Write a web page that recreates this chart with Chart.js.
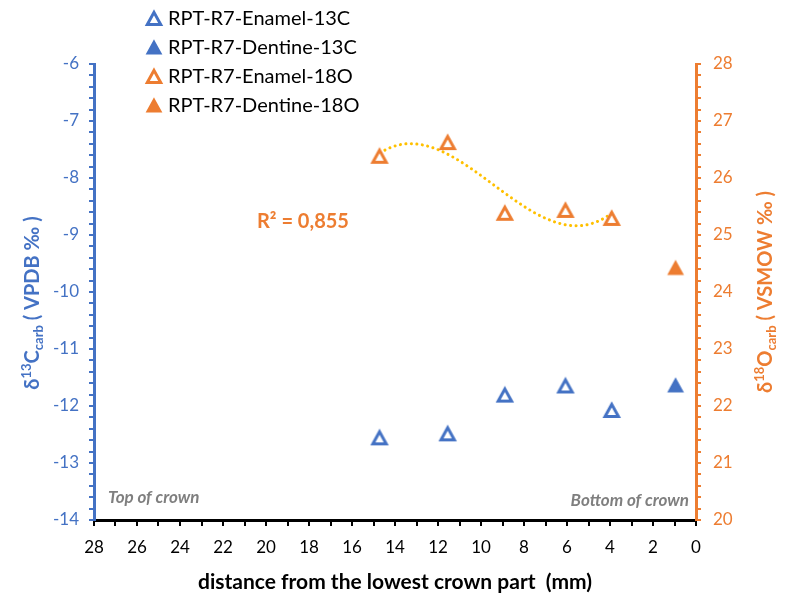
<!DOCTYPE html>
<html>
<head>
<meta charset="utf-8">
<script src="https://cdn.jsdelivr.net/npm/chart.js@4.4.0/dist/chart.umd.min.js"></script>
<style>
  body { margin: 0; background: #fff; }
  canvas { display: block; }
</style>
</head>
<body>
<canvas id="isotopeChart" width="785" height="598"></canvas>
<script>
// sample positions (mm from the lowest crown part) and isotope values
const enamelDistance = [14.72, 11.55, 8.89, 6.07, 3.92];
const enamelC13 = [-12.55, -12.48, -11.80, -11.64, -12.07];
const enamelO18 = [26.39, 26.63, 25.39, 25.44, 25.30];
const dentineDistance = [0.95];
const dentineC13 = [-11.63];
const dentineO18 = [24.43];

const seriesLabels = ['RPT-R7-Enamel-13C', 'RPT-R7-Dentine-13C', 'RPT-R7-Enamel-18O', 'RPT-R7-Dentine-18O'];
const distanceRange = [0, 28];
const c13Range = [-14, -6];
const o18Range = [20, 28];
const r2Text = 'R² = 0,855';

const BLUE = '#4472C4';
const ORANGE = '#ED7D31';
const TREND = '#FFC000';
const GREY = '#7F7F7F';
const FONT = 'Lato';

Chart.defaults.font.family = FONT;

// triangle marker drawn centred in its own box
const makeTriangle = (color, filled) => {
    const c = document.createElement('canvas');
    c.width = 24;
    c.height = 24;
    const ctx = c.getContext('2d');
    ctx.beginPath();
    ctx.moveTo(12, 6.4);
    ctx.lineTo(18.7, 18.6);
    ctx.lineTo(5.3, 18.6);
    ctx.closePath();
    ctx.lineJoin = 'miter';
    ctx.strokeStyle = color;
    if (filled) {
        ctx.fillStyle = color;
        ctx.fill();
        ctx.lineWidth = 2;
    } else {
        ctx.fillStyle = '#fff';
        ctx.fill();
        ctx.lineWidth = 3;
    }
    ctx.stroke();
    return c;
};

const markers = [
    makeTriangle(BLUE, false),
    makeTriangle(BLUE, true),
    makeTriangle(ORANGE, false),
    makeTriangle(ORANGE, true)
];

const toPoints = (xs, ys) => xs.map((x, i) => ({x: x, y: ys[i]}));

// least squares polynomial (order 3) trendline through the enamel 18O values
const polyFit = (xs, ys, order) => {
    const n = order + 1;
    const A = [];
    for (let r = 0; r < n; r++) {
        A.push([]);
        for (let c = 0; c < n; c++) {
            A[r].push(xs.reduce((s, x) => s + Math.pow(x, r + c), 0));
        }
        A[r].push(xs.reduce((s, x, i) => s + Math.pow(x, r) * ys[i], 0));
    }
    for (let p = 0; p < n; p++) {
        let best = p;
        for (let r = p + 1; r < n; r++) if (Math.abs(A[r][p]) > Math.abs(A[best][p])) best = r;
        [A[p], A[best]] = [A[best], A[p]];
        for (let r = 0; r < n; r++) {
            if (r === p) continue;
            const f = A[r][p] / A[p][p];
            for (let c = p; c <= n; c++) A[r][c] -= f * A[p][c];
        }
    }
    return A.map((row, i) => row[n] / row[i]);
};

const coef = polyFit(enamelDistance, enamelO18, 3);
const trendX0 = Math.min(...enamelDistance);
const trendX1 = Math.max(...enamelDistance);
const trendPoints = [];
for (let i = 0; i <= 80; i++) {
    const x = trendX0 + (trendX1 - trendX0) * i / 80;
    trendPoints.push({x: x, y: coef.reduce((s, c, k) => s + c * Math.pow(x, k), 0)});
}

const isWhole = v => Math.abs(v - Math.round(v)) < 1e-6;

// legend, axis titles with super/subscripts and the text notes
const extrasPlugin = {
    id: 'extras',
    afterDraw(chart) {
        const ctx = chart.ctx;
        const area = chart.chartArea;
        ctx.save();

        // legend
        ctx.font = `20px ${FONT}`;
        ctx.fillStyle = '#000';
        ctx.textBaseline = 'middle';
        ctx.textAlign = 'left';
        const rows = [18, 47, 76, 105];
        seriesLabels.forEach((label, i) => {
            ctx.drawImage(markers[i], 154 - 12, rows[i] - 12);
            ctx.fillText(label, 168, rows[i] + 1);
        });

        // notes
        ctx.font = `italic bold 17px ${FONT}`;
        ctx.fillStyle = GREY;
        ctx.textBaseline = 'alphabetic';
        ctx.fillText('Top of crown', area.left + 14, area.bottom - 17);
        ctx.textAlign = 'right';
        ctx.fillText('Bottom of crown', area.right - 7, area.bottom - 14);

        ctx.textAlign = 'left';
        ctx.font = `bold 20px ${FONT}`;
        ctx.fillStyle = ORANGE;
        ctx.fillText(r2Text, area.left + 163, area.top + 164);

        // axis titles
        const rich = (parts, cx, cy, color) => {
            let total = 0;
            parts.forEach(p => {
                ctx.font = `bold ${p[1]}px ${FONT}`;
                p.w = ctx.measureText(p[0]).width;
                total += p.w;
            });
            ctx.save();
            ctx.translate(cx, cy);
            ctx.rotate(-Math.PI / 2);
            ctx.fillStyle = color;
            ctx.textAlign = 'left';
            ctx.textBaseline = 'alphabetic';
            let x = -total / 2;
            parts.forEach(p => {
                ctx.font = `bold ${p[1]}px ${FONT}`;
                ctx.fillText(p[0], x, p[2]);
                x += p.w;
            });
            ctx.restore();
        };
        rich([['δ', 20, 7], ['13', 13, -1], ['C', 20, 7], ['carb', 13, 11], [' ( VPDB ‰ )', 20, 7]], 32, 303, BLUE);
        rich([['δ', 20, 7], ['18', 13, -1], ['O', 20, 7], ['carb', 13, 11], [' ( VSMOW ‰ )', 20, 7]], 765, 292, ORANGE);

        ctx.restore();
    }
};

const ctx = document.getElementById('isotopeChart').getContext('2d');
const isotopeChart = new Chart(ctx, {
    type: 'scatter',
    data: {
        datasets: [
            {
                label: seriesLabels[0],
                data: toPoints(enamelDistance, enamelC13),
                yAxisID: 'y',
                pointStyle: markers[0]
            },
            {
                label: seriesLabels[1],
                data: toPoints(dentineDistance, dentineC13),
                yAxisID: 'y',
                pointStyle: markers[1]
            },
            {
                label: seriesLabels[2],
                data: toPoints(enamelDistance, enamelO18),
                yAxisID: 'y2',
                pointStyle: markers[2]
            },
            {
                label: seriesLabels[3],
                data: toPoints(dentineDistance, dentineO18),
                yAxisID: 'y2',
                pointStyle: markers[3]
            },
            {
                label: 'Poly. (RPT-R7-Enamel-18O)',
                data: trendPoints,
                yAxisID: 'y2',
                showLine: true,
                pointRadius: 0,
                borderColor: TREND,
                borderWidth: 3,
                borderDash: [0.1, 5.4],
                borderCapStyle: 'round',
                fill: false
            }
        ]
    },
    options: {
        responsive: false,
        animation: false,
        layout: {padding: {top: 64, left: 0, right: 0, bottom: 0}},
        plugins: {
            legend: {display: false},
            tooltip: {enabled: false}
        },
        scales: {
            x: {
                type: 'linear',
                reverse: true,
                min: distanceRange[0],
                max: distanceRange[1],
                afterFit: s => { s.height = 78; },
                border: {color: '#000', width: 3},
                grid: {drawOnChartArea: false, color: '#000', tickLength: 6, lineWidth: 2},
                ticks: {
                    stepSize: 1,
                    autoSkip: false,
                    maxRotation: 0,
                    padding: 11,
                    color: '#000',
                    font: {size: 17},
                    callback: v => (isWhole(v) && Math.round(v) % 2 === 0) ? String(Math.round(v)) : ''
                },
                title: {
                    display: true,
                    text: 'distance from the lowest crown part  (mm)',
                    color: '#000',
                    font: {size: 21, weight: 'bold'},
                    padding: {top: 0, bottom: 3}
                }
            },
            y: {
                position: 'left',
                min: c13Range[0],
                max: c13Range[1],
                afterFit: s => { s.width = 94; },
                border: {color: BLUE, width: 3},
                grid: {drawOnChartArea: false, color: BLUE, tickLength: 5, lineWidth: 2},
                ticks: {
                    stepSize: 0.2,
                    autoSkip: false,
                    padding: 10,
                    color: BLUE,
                    font: {size: 17},
                    callback: v => isWhole(v) ? String(Math.round(v)) : ''
                }
            },
            y2: {
                position: 'right',
                min: o18Range[0],
                max: o18Range[1],
                afterFit: s => { s.width = 89; },
                border: {color: ORANGE, width: 3},
                grid: {drawOnChartArea: false, color: ORANGE, tickLength: 5, lineWidth: 2},
                ticks: {
                    stepSize: 0.2,
                    autoSkip: false,
                    padding: 12,
                    color: ORANGE,
                    font: {size: 17},
                    callback: v => isWhole(v) ? String(Math.round(v)) : ''
                }
            }
        }
    },
    plugins: [extrasPlugin]
});
</script>
</body>
</html>
